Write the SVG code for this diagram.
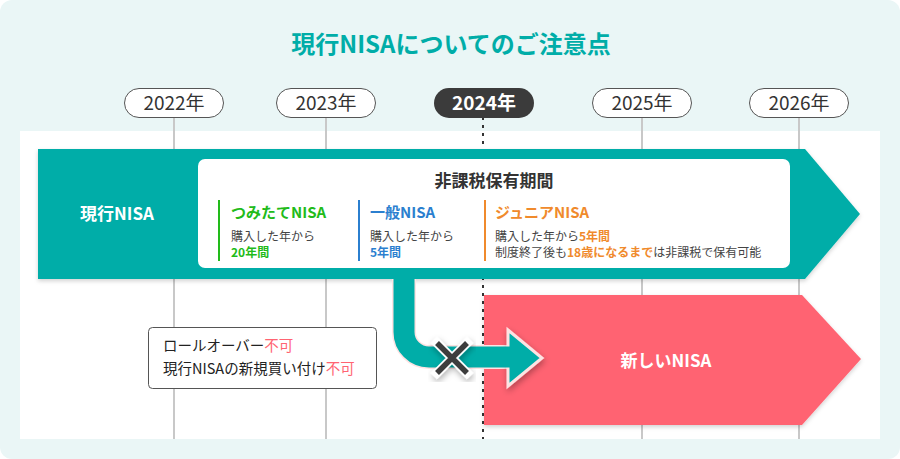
<svg xmlns="http://www.w3.org/2000/svg" width="900" height="459" viewBox="0 0 900 459">
<style>
text{font-family:"Noto Sans CJK JP","Noto Sans",sans-serif;}
.pill{fill:#fff;stroke:#555;stroke-width:1;}
.yr{font-size:19px;fill:#333;text-anchor:middle;}
.vl{stroke:#c8c8c8;stroke-width:2;}
.hd{font-size:15px;font-weight:700;}
.sm{font-size:12px;fill:#444;}
.b{font-weight:700;}
.cl{font-size:14.5px;fill:#222;}
</style>
<defs>
<filter id="sh" x="-10%" y="-10%" width="120%" height="130%">
<feDropShadow dx="0" dy="2" stdDeviation="2" flood-color="#000" flood-opacity="0.18"/>
</filter>
<filter id="sh2" x="-30%" y="-30%" width="160%" height="160%">
<feDropShadow dx="1" dy="3" stdDeviation="3" flood-color="#000" flood-opacity="0.3"/>
</filter>
</defs>
<rect x="0" y="0" width="900" height="459" rx="12" fill="#EAF6F6"/>
<rect x="20" y="131" width="860" height="308" fill="#fff"/>
<text x="451" y="53" text-anchor="middle" font-size="24" font-weight="700" fill="#00ADA8">現行NISAについてのご注意点</text>

<g id="timeline">
<line class="vl" x1="174" y1="117" x2="174" y2="439"/>
<line class="vl" x1="326" y1="117" x2="326" y2="439"/>
<line class="vl" x1="642" y1="117" x2="642" y2="439"/>
<line class="vl" x1="799" y1="117" x2="799" y2="439"/>
<line x1="483" y1="117" x2="483" y2="439" stroke="#333" stroke-width="2" stroke-dasharray="3 5"/>
</g>
<g id="y2022"><rect class="pill" x="124.5" y="88.5" width="99" height="29" rx="14.5"/><text class="yr" x="174" y="110">2022年</text></g>
<g id="y2023"><rect class="pill" x="276.5" y="88.5" width="99" height="29" rx="14.5"/><text class="yr" x="326" y="110">2023年</text></g>
<g id="y2024"><rect x="434" y="88" width="100" height="30" rx="15" fill="#3b3b3b"/><text class="yr" x="484" y="110" fill="#fff" font-weight="700" style="fill:#fff">2024年</text></g>
<g id="y2025"><rect class="pill" x="592.5" y="88.5" width="99" height="29" rx="14.5"/><text class="yr" x="642" y="110">2025年</text></g>
<g id="y2026"><rect class="pill" x="749.5" y="88.5" width="99" height="29" rx="14.5"/><text class="yr" x="799" y="110">2026年</text></g>

<g id="current-nisa">
<polygon points="38,149 805,149 860,214 805,279 38,279" fill="#00ADA8" filter="url(#sh)"/>
<text x="117" y="220" text-anchor="middle" font-size="17" font-weight="700" fill="#fff">現行NISA</text>
<rect x="198" y="159" width="592" height="109" rx="7" fill="#fff"/>
<text x="494" y="187" text-anchor="middle" font-size="17" font-weight="700" fill="#333">非課税保有期間</text>
<line x1="219" y1="200" x2="219" y2="261" stroke="#22BB1A" stroke-width="2"/>
<text x="231" y="218" class="hd" fill="#22BB1A">つみたてNISA</text>
<text x="231" y="241" class="sm">購入した年から</text>
<text x="231" y="257" class="sm b" style="fill:#22BB1A">20年間</text>
<line x1="359" y1="200" x2="359" y2="261" stroke="#2B7FCF" stroke-width="2"/>
<text x="370" y="218" class="hd" fill="#2B7FCF">一般NISA</text>
<text x="370" y="241" class="sm">購入した年から</text>
<text x="370" y="257" class="sm b" style="fill:#2B7FCF">5年間</text>
<line x1="485" y1="200" x2="485" y2="261" stroke="#F08A2C" stroke-width="2"/>
<text x="495" y="218" class="hd" fill="#F08A2C">ジュニアNISA</text>
<text x="495" y="241" class="sm">購入した年から<tspan class="b" style="fill:#F08A2C">5年間</tspan></text>
<text x="495" y="257" class="sm">制度終了後も<tspan class="b" style="fill:#F08A2C">18歳になるまで</tspan>は非課税で保有可能</text>
</g>

<g id="new-nisa">
<polygon points="484,295 802,295 861,359 802,425 484,425" fill="#FF6472" filter="url(#sh)"/>
<text x="666" y="367" text-anchor="middle" font-size="17" font-weight="700" fill="#fff">新しいNISA</text>
</g>

<g id="connectors">
<path d="M404,279 V332 A25,25 0 0 0 429,357 H515" fill="none" stroke="#fde3e3" stroke-width="24"/>
<polygon points="508,330 542,358 508,386" fill="#00ADA8" stroke="#fde3e3" stroke-width="3" stroke-linejoin="miter" filter="url(#sh2)"/>
<path d="M404,278 V332 A25,25 0 0 0 429,357 H512" fill="none" stroke="#00ADA8" stroke-width="21"/>
<g id="cross" filter="url(#sh2)">
<path d="M437,343 L467,373 M467,343 L437,373" stroke="#fff" stroke-width="9" stroke-linecap="square"/>
<path d="M437,343 L467,373 M467,343 L437,373" stroke="#3d3d3d" stroke-width="5.5" stroke-linecap="butt"/>
</g>
</g>

<g id="note">
<rect x="148.5" y="327.5" width="228" height="61" rx="4" fill="#fff" stroke="#555" stroke-width="1"/>
<text x="163" y="351" class="cl">ロールオーバー<tspan fill="#FF6472">不可</tspan></text>
<text x="163" y="374" class="cl">現行NISAの新規買い付け<tspan fill="#FF6472">不可</tspan></text>
</g>
</svg>
